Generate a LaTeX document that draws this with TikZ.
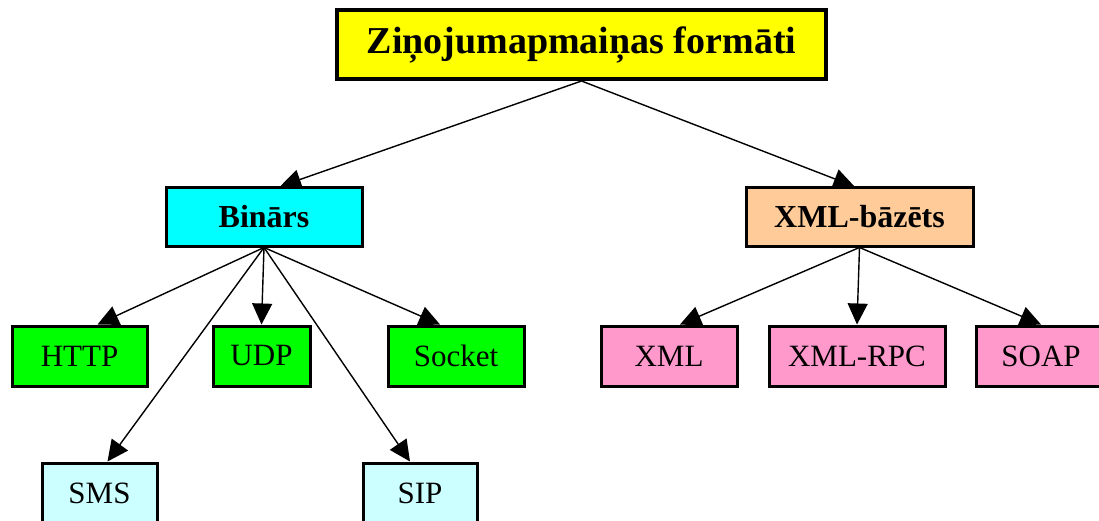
\documentclass[tikz,border=0pt]{standalone}
\usepackage{fontspec}
\setmainfont{Liberation Serif}
\usetikzlibrary{arrows.meta}
\definecolor{topfill}{RGB}{255,255,0}
\definecolor{binfill}{RGB}{0,255,255}
\definecolor{xmlfill}{RGB}{255,204,153}
\definecolor{greenfill}{RGB}{0,255,0}
\definecolor{pinkfill}{RGB}{255,153,204}
\definecolor{palefill}{RGB}{204,255,255}
\begin{document}
\begin{tikzpicture}[x=1pt,y=-1pt,
    box/.style={draw, line width=3pt, inner sep=0pt, minimum height=60pt, font=\fontsize{31}{33}\selectfont},
    groupbox/.style={box, minimum height=58pt, font=\fontsize{32}{34}\selectfont\bfseries},
    link/.style={line width=1.4pt, -{Triangle[length=21pt,width=20pt]}}]
    \clip (0,0) rectangle (1099,521);
    \node [box, line width=4pt, fill=topfill, minimum width=489pt, minimum height=69pt,
           font=\fontsize{38}{40}\selectfont\bfseries] (root) at (581.5,44.5) {Ziņojumapmaiņas formāti};
    \node [groupbox, fill=binfill, minimum width=196pt] (bin) at (264,217) {Binārs};
    \node [groupbox, fill=xmlfill, minimum width=227pt] (xmlb) at (859.5,217) {XML-bāzēts};
    \node [box, fill=greenfill, minimum width=135pt] (http) at (79.5,356) {HTTP};
    \node [box, fill=greenfill, minimum width=97pt] (udp) at (261.5,356) {UDP};
    \node [box, fill=greenfill, minimum width=136pt] (socket) at (456,356) {Socket};
    \node [box, fill=pinkfill, minimum width=136pt] (xml) at (669,356) {XML};
    \node [box, fill=pinkfill, minimum width=176pt] (rpc) at (857,356) {XML-RPC};
    \node [box, fill=pinkfill, minimum width=130pt] (soap) at (1041,356) {SOAP};
    \node [box, fill=palefill, minimum width=115pt] (sms) at (99.5,493) {SMS};
    \node [box, fill=palefill, minimum width=114pt] (sip) at (420,493) {SIP};
    % edges
    \draw [link] (root.south) -- ([xshift=16pt]bin.north);
    \draw [link] (root.south) -- ([xshift=-5pt]xmlb.north);
    \draw [link] (bin.south) -- ([xshift=18pt]http.north);
    \draw [link] (bin.south) -- (udp.north);
    \draw [link] (bin.south) -- ([xshift=-16pt]socket.north);
    \draw [link] (bin.south) -- ([xshift=8pt]sms.north);
    \draw [link] (bin.south) -- ([xshift=-10pt]sip.north);
    \draw [link] (xmlb.south) -- ([xshift=11pt]xml.north);
    \draw [link] (xmlb.south) -- (rpc.north);
    \draw [link] (xmlb.south) -- (soap.north);
\end{tikzpicture}
\end{document}
